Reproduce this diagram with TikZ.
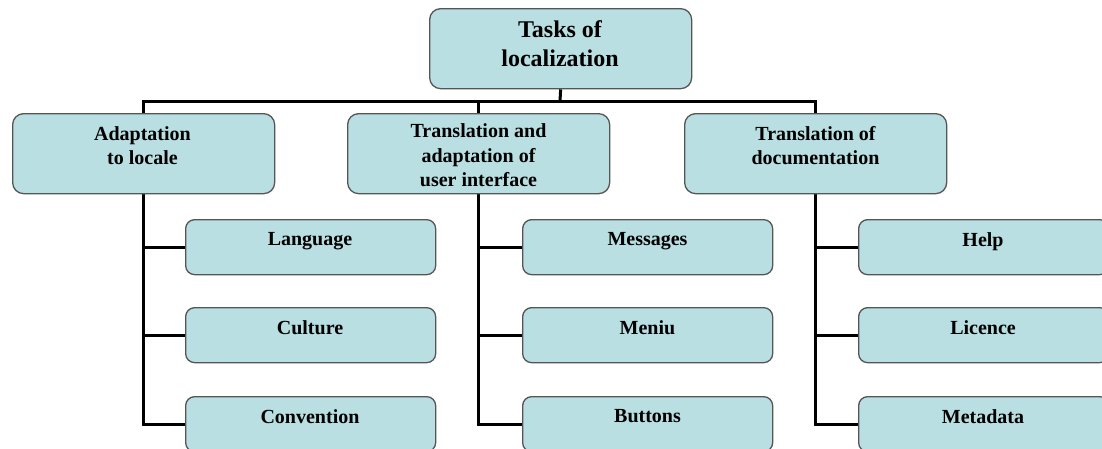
\documentclass[tikz,border=0pt]{standalone}
\usepackage{fontspec}
\setmainfont{Liberation Serif}
\usetikzlibrary{backgrounds}
\definecolor{boxfill}{RGB}{185,223,226}
\definecolor{boxline}{RGB}{85,85,85}
\begin{document}
\begin{tikzpicture}[x=1pt,y=-1pt,
  box/.style={draw=boxline,fill=boxfill,line width=1.3pt,rounded corners=11pt,inner sep=0pt,anchor=north west},
  topbox/.style={box,minimum width=262pt,minimum height=80pt},
  midbox/.style={box,minimum width=262pt,minimum height=80pt},
  leafbox/.style={box,rounded corners=9pt,minimum width=250pt,minimum height=55pt},
  txt/.style={font=\bfseries\fontsize{20}{24.5}\selectfont,align=center,inner sep=0pt,anchor=north},
  toptxt/.style={font=\bfseries\fontsize{24}{29}\selectfont,align=center,inner sep=0pt,anchor=north},
  conn/.style={line width=3pt,black,line join=miter}
]
\useasboundingbox (0,0) rectangle (1102,448);
% boxes
\node[topbox] (top) at (429,8) {};
\node[toptxt] (toptext) at (560,20) {Tasks of\\localization};

\node[midbox] (ada) at (12,113) {};
\node[txt] (adatext) at (142.5,126) {Adaptation\\to locale};
\node[midbox] (tra) at (347,113) {};
\node[txt] (tratext) at (478.5,123.5) {Translation and\\adaptation of\\user interface};
\node[midbox] (doc) at (684,113) {};
\node[txt] (doctext) at (815.5,126) {Translation of\\documentation};

\node[leafbox] (lang) at (185,219) {};
\node[txt] (langtext) at (310,232.5) {Language};
\node[leafbox] (cult) at (185,307) {};
\node[txt] (culttext) at (310,320.5) {Culture};
\node[leafbox] (conv) at (185,396) {};
\node[txt] (convtext) at (310,409.5) {Convention};

\node[leafbox] (mess) at (522,219) {};
\node[txt] (messtext) at (647.5,232.5) {Messages};
\node[leafbox] (menu) at (522,307) {};
\node[txt] (menutext) at (647.5,320.5) {Meniu};
\node[leafbox] (butt) at (522,396) {};
\node[txt] (butttext) at (647.5,409.5) {Buttons};

\node[leafbox] (help) at (858,219) {};
\node[txt] (helptext) at (983,232.5) {Help};
\node[leafbox] (lic) at (858,307) {};
\node[txt] (lictext) at (983,320.5) {Licence};
\node[leafbox] (meta) at (858,396) {};
\node[txt] (metatext) at (983,409.5) {Metadata};

\coordinate (bus) at (560,101);
\begin{pgfonlayer}{background}
\draw[conn] (top.south) -- (bus);
\draw[conn] (ada.north) |- (bus) -| (doc.north);
\draw[conn] (bus) -| (tra.north);
\draw[conn] (ada.south) |- (conv.west);
\draw[conn] (ada.south) |- (lang.west);
\draw[conn] (ada.south) |- (cult.west);
\draw[conn] (tra.south) |- (butt.west);
\draw[conn] (tra.south) |- (mess.west);
\draw[conn] (tra.south) |- (menu.west);
\draw[conn] (doc.south) |- (meta.west);
\draw[conn] (doc.south) |- (help.west);
\draw[conn] (doc.south) |- (lic.west);
\end{pgfonlayer}
\end{tikzpicture}
\end{document}
